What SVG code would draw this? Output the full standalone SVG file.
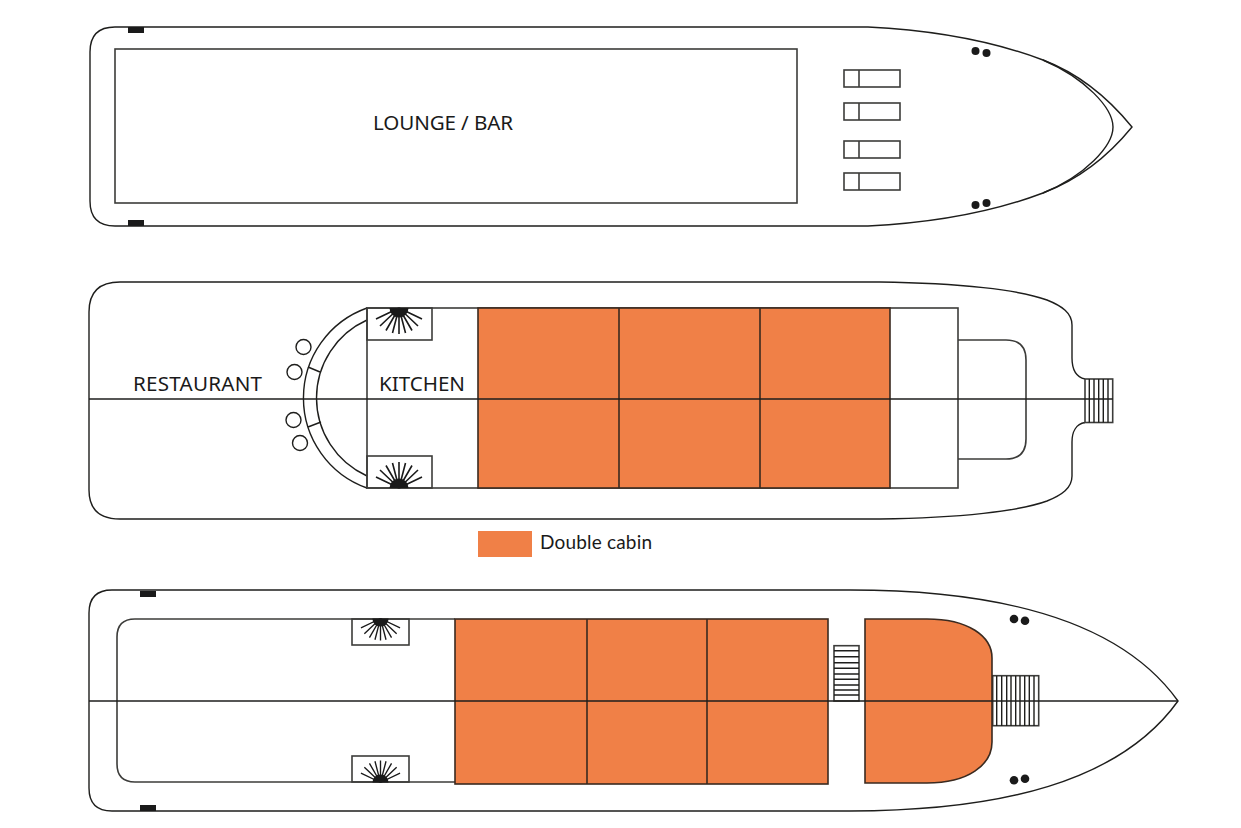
<svg xmlns="http://www.w3.org/2000/svg" width="1241" height="828" viewBox="0 0 1241 828">
<style>
.l{fill:none;stroke:#1e1e1c;stroke-width:1.4}
.b{fill:none;stroke:#3c3c3a;stroke-width:1.6}
.o{fill:#f08047;stroke:#3a2a20;stroke-width:1.6}
.d{fill:#1a1a1a}
.t{font-family:"Noto Sans","Open Sans",sans-serif;font-size:20.600px;fill:#1a1a1a}
.r{stroke:#1a1a1a;stroke-width:1.600;fill:none}
</style>
<defs>
<g id="fan"><path class="d" d="M-9.500,0A9.500,9.500 0 0 0 9.500,0Z"/><path class="r" d="M0,0V26M0,0L6.500,25M0,0L13,22.500M0,0L19,18M0,0L23,11M0,0L-6.500,25M0,0L-13,22.500M0,0L-19,18M0,0L-23,11"/></g>
<g id="lounger"><rect class="b" x="844" y="0" width="56" height="17"/><path class="b" d="M859,0V17"/></g>
</defs>
<rect width="1241" height="828" fill="#fff"/>
<g id="upper-deck">
<path class="l" d="M868,27H115Q90,27 90,52V201Q90,226 115,226H868C930,223 990,213 1043,193C1080,179 1110,154 1132,127C1110,100 1080,74 1043,60C990,40 930,30 868,27Z"/>
<path class="l" d="M1043,60C1085,78 1113,108 1113,127C1113,146 1085,176 1043,193"/>
<rect class="d" x="128" y="27" width="16" height="6"/><rect class="d" x="128" y="220" width="16" height="6"/>
<circle class="d" cx="975.500" cy="51" r="4"/><circle class="d" cx="986.500" cy="53" r="4"/><circle class="d" cx="975.500" cy="205" r="4"/><circle class="d" cx="986.500" cy="203" r="4"/>
<use href="#lounger" y="70"/><use href="#lounger" y="103"/><use href="#lounger" y="141"/><use href="#lounger" y="173"/>
</g>
<g id="lounge-bar"><rect class="b" x="115" y="49" width="682" height="154"/><text class="t" x="373" y="130" textLength="140">LOUNGE / BAR</text></g>
<g id="middle-deck">
<path class="l" d="M1085,379C1076,377 1072,370 1072,358V325C1072,313 1062,306 1047,300C1020,290 960,283 880,282H120Q89,282 89,312V490Q89,519 120,519H880C960,518 1020,511 1047,501C1062,495 1072,488 1072,476V442C1072,432 1076,424 1085,422.500"/>
<rect class="b" x="1085" y="379" width="27.700" height="43.500"/>
<path class="l" d="M1089.300,379V422.500M1094,379V422.500M1098.700,379V422.500M1103.300,379V422.500M1108,379V422.500"/>
<rect class="b" x="367" y="308" width="591" height="180"/>
<path class="b" d="M958,340H1006Q1026,340 1026,360V439Q1026,459 1006,459H958"/>
<path class="l" d="M367,308A95.500,95.500 0 0 0 367,488"/>
<path class="l" d="M367,320A85.500,85.500 0 0 0 367,476"/>
<path class="l" d="M308,367L320,372M308,427L321,422"/>
<circle class="l" cx="303.500" cy="347" r="7.500"/><circle class="l" cx="294.500" cy="372" r="7.500"/><circle class="l" cx="293.500" cy="420" r="7.500"/><circle class="l" cx="300" cy="443" r="7.500"/>
<rect class="b" x="367" y="308" width="65" height="32"/><rect class="b" x="367" y="456" width="65" height="32"/>
<use href="#fan" transform="translate(399,308)"/><use href="#fan" transform="translate(399,488) scale(1,-1)"/>
<text class="t" x="133" y="391" textLength="129">RESTAURANT</text><text class="t" x="379" y="391" textLength="86">KITCHEN</text>
</g>
<g id="middle-cabins">
<rect class="o" x="478" y="308" width="412" height="180"/>
<path class="o" d="M619,308V488M760,308V488"/>
</g>
<g id="legend"><rect x="478" y="531" width="54" height="26" fill="#f08047"/><text x="540" y="549" font-family="Lato,'Noto Sans',sans-serif" font-size="19" textLength="112" fill="#1a1a1a">Double cabin</text></g>
<g id="lower-deck">
<path class="l" d="M850,590H112Q89,590 89,613V788Q89,811 112,811H850C1000,811 1120,782 1178,701C1120,620 1000,590 850,590Z"/>
<path class="b" d="M455,619H135Q117,619 117,637V764Q117,782 135,782H455"/>
<rect class="d" x="140" y="591" width="16" height="6"/><rect class="d" x="140" y="805" width="16" height="6"/>
<circle class="d" cx="1014" cy="619" r="4.300"/><circle class="d" cx="1025" cy="620.700" r="4.300"/><circle class="d" cx="1014" cy="780.300" r="4.300"/><circle class="d" cx="1025" cy="778.700" r="4.300"/>
<rect class="b" x="352" y="619" width="57" height="26"/><rect class="b" x="352" y="756" width="57" height="26"/>
<use href="#fan" transform="translate(380.500,618.500) scale(.85)"/><use href="#fan" transform="translate(380.500,782.500) scale(.85,-.85)"/>
<rect class="b" x="834" y="645.700" width="25" height="55.300"/>
<path class="l" d="M834,650.700H859M834,656.700H859M834,662.700H859M834,668.300H859M834,674H859M834,679.300H859M834,685H859M834,690H859M834,695H859"/>
<rect class="b" x="992.700" y="675.700" width="46" height="50"/>
<path class="l" d="M996.700,676V726M1001.700,676V726M1006.700,676V726M1011,676V726M1015.700,676V726M1020,676V726M1024.700,676V726M1029.300,676V726M1034,676V726"/>
</g>
<g id="lower-cabins">
<rect class="o" x="455" y="619" width="373" height="165"/>
<path class="o" d="M587,619V784M707,619V784"/>
<path class="o" d="M865,619H927C968,619 992,636 992,658V742C992,765 968,783 927,783H865Z"/>
</g>
<g id="connectors"><path class="l" d="M89,399H1113"/><path class="l" style="stroke-width:1.700" d="M89,701H1178"/></g>
</svg>
